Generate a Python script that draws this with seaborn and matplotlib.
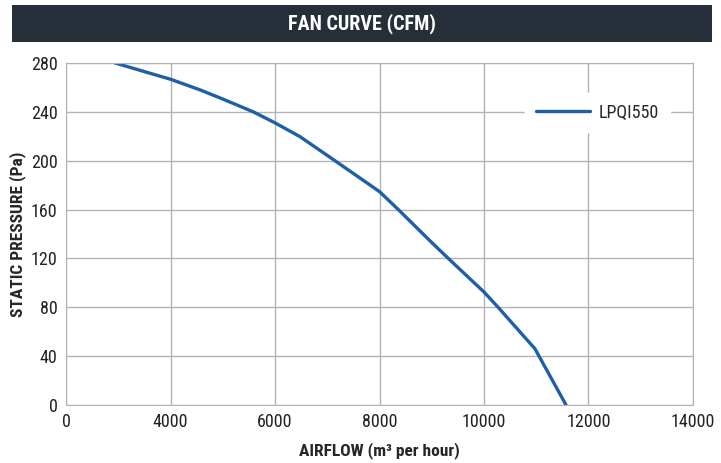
import seaborn as sns
import matplotlib.pyplot as plt
import pandas as pd

airflow = [2940, 4000, 4565, 5000, 5585, 6000, 6478, 7148, 8000, 8360, 9000, 9317, 10000, 10270, 10976, 11570]
pressure = [280, 266.7, 258, 250.5, 240, 231, 219.7, 200, 174.7, 160, 133, 120, 92.5, 80, 46, 0]
x_ticks = [2000, 4000, 6000, 8000, 10000, 12000, 14000]
x_labels = ['0', '4000', '6000', '8000', '10000', '12000', '14000']
y_ticks = [0, 40, 80, 120, 160, 200, 240, 280]

df = pd.DataFrame({'airflow': airflow, 'pressure': pressure, 'model': 'LPQI550'})

sns.set_style('white')
plt.rcParams['font.family'] = ['Roboto Condensed', 'DejaVu Sans']

fig = plt.figure(figsize=(7.21, 4.63), dpi=100)
ax = fig.add_axes([66/721, 1-405/463, 627/721, 342/463])

sns.lineplot(data=df, x='airflow', y='pressure', hue='model', palette=['#1f5fa8'],
             linewidth=2.4, sort=False, ax=ax)

ax.set_xlim(2000, 14000)
ax.set_ylim(0, 280)
ax.set_xticks(x_ticks)
ax.set_xticklabels(x_labels)
ax.set_yticks(y_ticks)
ax.grid(True, color='#b3b3b3', linewidth=1)
for s in ax.spines.values():
    s.set_color('#b3b3b3')
ax.tick_params(labelsize=13, colors='#222222', length=0, pad=6)
ax.set_xlabel('AIRFLOW (m³ per hour)', fontsize=12.5, fontweight='bold')
ax.set_ylabel('STATIC PRESSURE (Pa)', fontsize=12.5, fontweight='bold')
ax.xaxis.set_label_coords(0.5, -0.132)
ax.yaxis.set_label_coords(-0.077, 0.5)
ax.xaxis.label.set_va('center')
ax.yaxis.label.set_va('center')

leg = ax.legend(loc='center right', bbox_to_anchor=(0.972, 0.855), frameon=True,
                fontsize=13, handlelength=3.0, handletextpad=0.5, borderpad=0.4, framealpha=1)
leg.get_frame().set_edgecolor('white')
leg.get_frame().set_boxstyle('square', pad=0.2)

# title bar
tax = fig.add_axes([12/721, 1-42/463, 700/721, 37/463])
tax.set_facecolor('#262f39')
tax.set_xticks([])
tax.set_yticks([])
for s in tax.spines.values():
    s.set_visible(False)
tax.text(0.5, 0.5, 'FAN CURVE (CFM)', color='white', fontsize=14.5, fontweight='bold',
         ha='center', va='center', transform=tax.transAxes)

fig.savefig('out.png', dpi=100)
